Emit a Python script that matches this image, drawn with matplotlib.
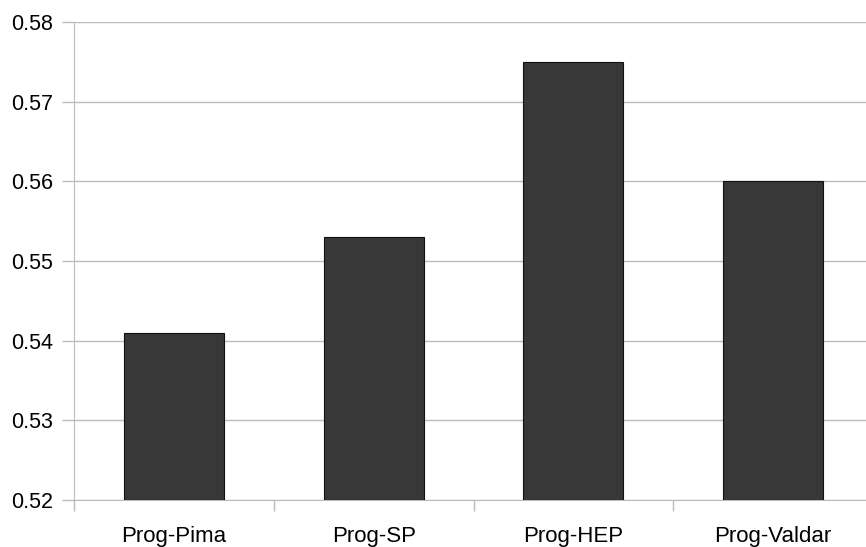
import matplotlib.pyplot as plt
from matplotlib.ticker import MultipleLocator, FixedLocator

plt.rcParams['font.family'] = ['Liberation Sans', 'DejaVu Sans']

categories = ['Prog-Pima', 'Prog-SP', 'Prog-HEP', 'Prog-Valdar']
values = [0.541, 0.553, 0.575, 0.560]

W, H = 866, 547
fig = plt.figure(figsize=(W / 100, H / 100), dpi=100)
# axes spans 74..873 px horizontally (right edge runs slightly off the image)
ax = fig.add_axes([74 / W, (H - 500) / H, 799 / W, 478 / H])

grid_c = '#bcbcbc'
x = list(range(len(categories)))
ax.bar(x, [v - 0.52 for v in values], bottom=0.52, width=0.5,
       color='#383838', edgecolor='#111111', linewidth=0.8, zorder=3)

ax.set_xlim(-0.5, len(categories) - 0.5)
ax.set_ylim(0.52, 0.58)
ax.yaxis.set_major_locator(MultipleLocator(0.01))
ax.yaxis.set_major_formatter(lambda v, p: f'{v:.2f}')
ax.grid(axis='y', color=grid_c, linewidth=1.0, zorder=0)

# category boundaries as ticks, labels at centres
ax.xaxis.set_major_locator(FixedLocator([i - 0.5 for i in range(len(categories) + 1)]))
ax.xaxis.set_major_formatter(lambda v, p: '')
ax.xaxis.set_minor_locator(FixedLocator(x))
ax.set_xticklabels(categories, minor=True)
ax.tick_params(axis='x', which='major', length=8, color=grid_c, width=1)
ax.tick_params(axis='x', which='minor', length=0, pad=19, labelsize=16)
ax.tick_params(axis='y', length=8.6, color=grid_c, width=1, pad=6.5, labelsize=15.5)

for s in ('top', 'right'):
    ax.spines[s].set_visible(False)
ax.spines['left'].set_color(grid_c)
ax.spines['bottom'].set_color(grid_c)

fig.savefig('out.png', dpi=100)
